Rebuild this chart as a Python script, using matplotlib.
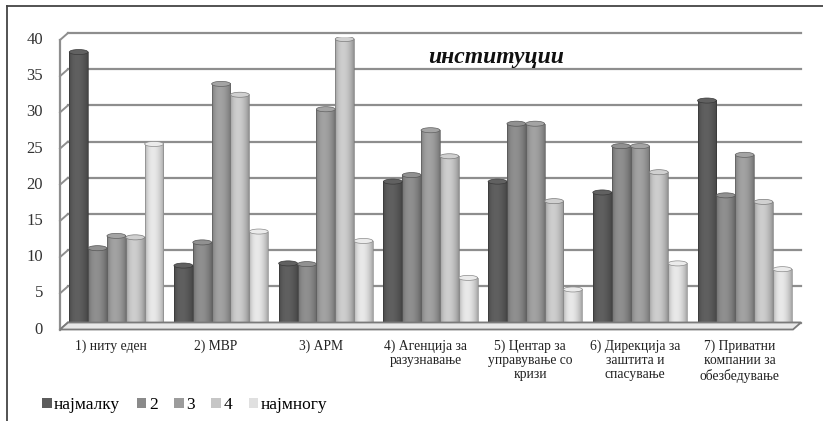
import numpy as np
import matplotlib
matplotlib.use("Agg")
import matplotlib.pyplot as plt
from matplotlib.patches import Ellipse, Polygon, Rectangle
from matplotlib.lines import Line2D
import matplotlib.transforms as mtransforms
from matplotlib.colors import to_rgb

# ---------------- data ----------------
categories = ["1) ниту еден", "2) МВР", "3) АРМ",
              "4) Агенција за\nразузнавање",
              "5) Центар за\nуправување со\nкризи",
              "6) Дирекција за\nзаштита и\nспасување",
              "7) Приватни\nкомпании за\nобезбедување"]
series_names = ["најмалку", "2", "3", "4", "најмногу"]
s_najmalku = [38.2, 8.7, 9.0, 20.3, 20.3, 18.8, 31.5]
s_2 = [11.1, 11.9, 8.9, 21.2, 28.3, 25.2, 18.4]
s_3 = [12.8, 33.8, 30.3, 27.4, 28.3, 25.2, 24.0]
s_4 = [12.6, 32.3, 40.0, 23.8, 17.6, 21.6, 17.5]
s_najmnogu = [25.5, 13.4, 12.1, 7.0, 5.4, 9.0, 8.2]
yticks = [0, 5, 10, 15, 20, 25, 30, 35, 40]
title = "институции"

series = [s_najmalku, s_2, s_3, s_4, s_najmnogu]
colors = ["#5c5c5c", "#8a8a8a", "#9c9c9c", "#c6c6c6", "#e0e0e0"]
serif = ["Liberation Serif", "DejaVu Serif"]

W, H = 823, 421
fig = plt.figure(figsize=(W / 100, H / 100), dpi=100)
ax = fig.add_axes([64 / W, (H - 326) / H, (797 - 64) / W, (326 - 36.5) / H])
for sp in ax.spines.values():
    sp.set_visible(False)
ax.patch.set_alpha(0)
ax.set_xticks([])
ax.set_yticks([])


def off(dx, dy):
    return mtransforms.ScaledTranslation(dx / fig.dpi, dy / fig.dpi, fig.dpi_scale_trans)


back = ax.transData + off(4, 3.5)
front = ax.transData + off(-4, -3.5)
x = np.arange(len(categories))
xl, xr = -0.5, len(categories) - 0.5
ax.set_xlim(xl, xr)
ax.set_ylim(0, 40)

grid_c = "#8e8e8e"
# back wall gridlines
for v in yticks:
    ax.plot([xl, xr], [v, v], transform=back, color=grid_c, lw=1.6, zorder=1, clip_on=False)

fig.canvas.draw()


def P(tr, xy):
    return tr.transform(xy)


# left wall + floor in display coords
for v in yticks:
    a, b = P(front, (xl, v)), P(back, (xl, v))
    fig.add_artist(Line2D([a[0], b[0]], [a[1], b[1]], transform=None, color=grid_c, lw=1.4, zorder=1))
a, b = P(front, (xl, 0)), P(front, (xl, 40))
fig.add_artist(Line2D([a[0], b[0]], [a[1], b[1]], transform=None, color=grid_c, lw=1.6, zorder=1))
floor = [P(front, (xl, 0)), P(front, (xr, 0)), P(back, (xr, 0)), P(back, (xl, 0))]
fig.add_artist(Polygon(floor, closed=True, transform=None, facecolor="#e8e8e8",
                       edgecolor="#7a7a7a", lw=1.3, zorder=1.5))

# cylinders
w = 0.18
capr = 0.35
N = 64
t = np.linspace(0, 1, N)
shade = 0.72 + 0.32 * np.sin(np.pi * t ** 0.8) ** 0.7
for j, (vals, c) in enumerate(zip(series, colors)):
    base = np.array(to_rgb(c))
    img = np.clip(base[None, None, :] * shade[None, :, None], 0, 1)
    edge = np.clip(base * 0.62, 0, 1)
    cap = np.clip(base * 1.05, 0, 1)
    heights = np.array(vals) - capr
    bars = ax.bar(x + (j - 2) * w, heights, w, facecolor="none", edgecolor=edge, lw=0.5, zorder=4)
    for rect in bars:
        x0, h = rect.get_x(), rect.get_height()
        ax.imshow(img, extent=(x0, x0 + w, 0, h), aspect="auto", zorder=3, interpolation="bilinear")
        ax.add_patch(Ellipse((x0 + w / 2, h), w, 2 * capr, facecolor=cap, edgecolor=edge, lw=0.5, zorder=5))
ax.set_xlim(xl, xr)
ax.set_ylim(0, 40)

# y tick labels (front plane)
for v in yticks:
    ax.text(xl, v, str(v), transform=ax.transData + off(-4 - 17, -3.5), ha="right", va="center",
            fontsize=12, family=serif, color="#333333")

# category labels
for i, lab in enumerate(categories):
    ax.text(i, 0, lab, transform=ax.transData + off(-5, -14), ha="center", va="top",
            fontsize=9.8, family=serif, color="#222222", linespacing=1.1, multialignment="center")

# title
fig.text(496 / W, 1 - 57 / H, title, fontsize=17, fontweight="bold", fontstyle="italic",
         family=serif, ha="center", va="center", color="#111111")

# legend
handles = [Rectangle((0, 0), 1, 1, facecolor=c, edgecolor="none") for c in colors]
fig.legend(handles, series_names, loc="center left", bbox_to_anchor=(42 / W, 1 - 405 / H), ncol=5,
           frameon=False, prop={"family": serif, "size": 12.5}, handlelength=0.55, handleheight=0.55,
           handletextpad=0.15, columnspacing=0.95, borderpad=0, borderaxespad=0)

# outer frame
fig.add_artist(Line2D([7 / W, 7 / W], [0, 1 - 6 / H], transform=fig.transFigure, color="#444444", lw=1.3))
fig.add_artist(Line2D([7 / W, 1], [1 - 6 / H, 1 - 6 / H], transform=fig.transFigure, color="#444444", lw=1.3))

fig.savefig("out.png", dpi=100)
